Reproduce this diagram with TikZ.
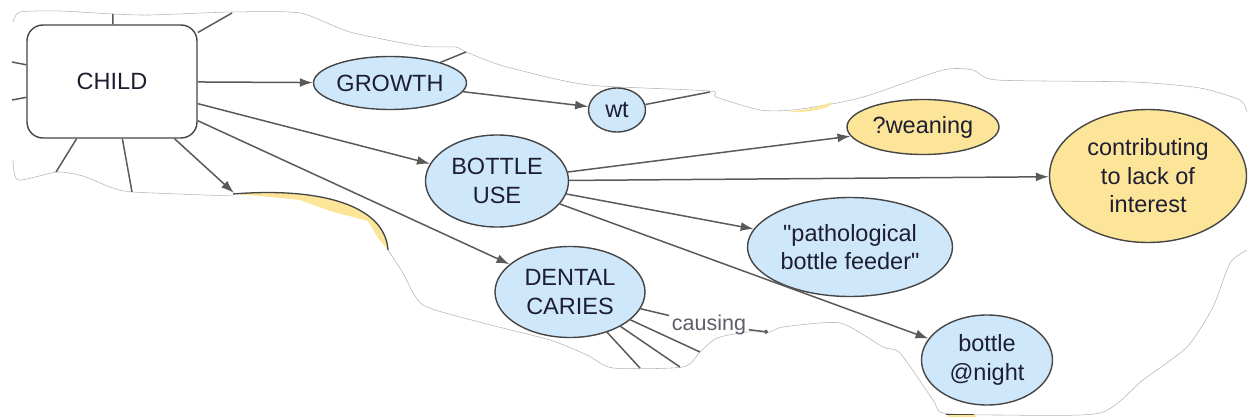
\documentclass[tikz,border=0pt]{standalone}
\usepackage{fontspec}
\setmainfont{Liberation Sans}
\usetikzlibrary{arrows.meta,shapes.geometric}
\definecolor{cblue}{HTML}{CFE7FA}
\definecolor{cyellow}{HTML}{FCE598}
\definecolor{cedge}{HTML}{454545}
\definecolor{clink}{HTML}{5A5A5A}
\definecolor{ctext}{HTML}{1E1E32}
\definecolor{clabel}{HTML}{5E5E6A}
\definecolor{ctear}{HTML}{B4B4B4}
\newcommand{\mapfont}{\fontsize{23.5}{28.5}\selectfont}

\begin{document}
\begin{tikzpicture}[x=1pt, y=-1pt, line width=1.4pt,
  concept/.style={ellipse, draw=cedge, fill=cblue, inner sep=0pt, align=center, text=ctext, font=\mapfont},
  hint/.style={concept, fill=cyellow},
  link/.style={draw=clink, line width=1.5pt, -{Latex[length=13pt,width=9pt]}},
  stub/.style={draw=clink, line width=1.5pt},
  tear/.style={draw=ctear, line width=0.55pt}]
  \useasboundingbox (0,0) rectangle (1248,417);
  % torn edge of the sheet
  \draw[tear] plot[smooth, tension=0.4] coordinates {(13,22) (20,12) (60,11) (113,14) (150,15) (232,12) (300,13) (350,32) (420,46) (455,47) (466,52) (500,65) (560,80) (600,86) (710,91) (716,97) (760,110) (793,110) (837,103) (870,95) (943,70) (973,70) (997,80) (1133,82) (1200,88) (1240,100) (1247,112)};
  \draw[tear] plot[smooth, tension=0.4] coordinates {(1247,250) (1230,263) (1213,307) (1187,347) (1143,380) (1100,413) (1000,415) (943,413) (933,400) (900,353) (883,347) (840,323) (783,327) (770,332) (747,332) (717,338) (700,352) (683,367) (613,368) (587,355) (550,340) (483,323) (423,305) (403,273) (388,250)};
  \draw[tear] plot[smooth, tension=0.4] coordinates {(233,196) (133,192) (110,187) (83,176) (57,172) (18,180) (13,160)};
  % yellow scraps cut by the tear
  \fill[cyellow] (233,194) .. controls (320,187) and (385,205) .. (388,250) -- (378,238) -- (368,221) -- (330,211) -- (300,200) -- (260,196) -- cycle;
  \draw[cedge, line width=1.3pt] (233,194) .. controls (320,187) and (385,205) .. (388,250);
  \fill[cyellow] (786,112) .. controls (805,110) and (820,107) .. (832,102) -- (828,107) .. controls (815,111) and (800,113) .. cycle;
  \fill[cyellow] (946,414) -- (974,414) -- (977,417) -- (949,417) -- cycle;
  \draw[cedge, line width=1pt] (946,414) -- (974,414);
  % nodes
  \node[draw=cedge, fill=white, rounded corners=16pt, minimum width=170pt, minimum height=113pt, text=ctext, font=\mapfont] (child) at (112,81.5) {CHILD};
  \node[concept, minimum width=153pt, minimum height=53pt] (growth) at (390,83) {GROWTH};
  \node[concept, minimum width=57pt, minimum height=44pt] (wt) at (617,110) {wt};
  \node[concept, minimum width=143pt, minimum height=92pt] (bottle) at (497,181) {BOTTLE\\USE};
  \node[hint, minimum width=152pt, minimum height=55pt] (weaning) at (923,127) {?weaning};
  \node[hint, minimum width=197pt, minimum height=133pt] (interest) at (1148,176) {contributing\\to lack of\\interest};
  \node[concept, minimum width=205pt, minimum height=99pt] (patho) at (850,247) {\textquotedbl pathological\\bottle feeder\textquotedbl};
  \node[concept, minimum width=150pt, minimum height=91pt] (dental) at (570,292) {DENTAL\\CARIES};
  \node[concept, minimum width=131pt, minimum height=90pt] (night) at (987,360) {bottle\\@night};
  \node[font=\fontsize{21.5}{24}\selectfont, text=clabel, inner sep=2pt] (causing) at (709,325) {causing};
  % loose ends at the tear
  \coordinate (scrap) at (234,193);
  \coordinate (c1) at (113,14);
  \coordinate (c2) at (232,13);
  \coordinate (c3) at (12,62);
  \coordinate (c4) at (12,100);
  \coordinate (c5) at (56,172);
  \coordinate (c6) at (132,192);
  \coordinate (gcut) at (466,52);
  \coordinate (wcut) at (710,92);
  \coordinate (d1) at (700,352);
  \coordinate (d2) at (680,367);
  \coordinate (d3) at (640,368);
  \coordinate (causecut) at (768,332);
  % links
  \draw[link] (child) -- (growth);
  \draw[link] (child) -- (bottle);
  \draw[link] (child) -- (dental);
  \draw[link] (child) -- (scrap);
  \draw[link] (growth) -- (wt);
  \draw[link] (bottle) -- (weaning);
  \draw[link] (bottle) -- (interest);
  \draw[link] (bottle) -- (patho);
  \draw[link] (bottle) -- (night);
  \draw[stub] (dental) -- (causing);
  \draw[stub, -{Circle[length=4pt]}] (causing) -- (causecut);
  \foreach \c in {c1,c2,c3,c4,c5,c6} \draw[stub] (child) -- (\c);
  \foreach \c in {d1,d2,d3} \draw[stub] (dental) -- (\c);
  \draw[stub] (growth) -- (gcut);
  \draw[stub] (wt) -- (wcut);
\end{tikzpicture}
\end{document}
